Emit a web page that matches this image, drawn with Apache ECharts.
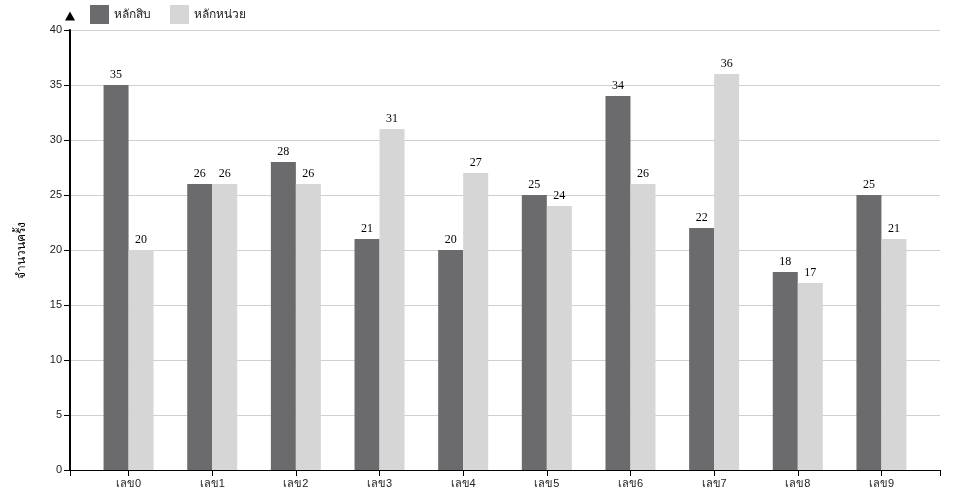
<!DOCTYPE html>
<html>
<head>
<meta charset="utf-8">
<script src="https://cdn.jsdelivr.net/npm/echarts@6/dist/echarts.min.js"></script>
<style>html,body{margin:0;padding:0;background:#fff}#c{width:960px;height:500px}</style>
</head>
<body>
<div id="c"></div>
<script>
const categories = ['เลข0','เลข1','เลข2','เลข3','เลข4','เลข5','เลข6','เลข7','เลข8','เลข9'];
const tens = [35,26,28,21,20,25,34,22,18,25];
const units = [20,26,26,31,27,24,26,36,17,21];
const seriesNames = ['หลักสิบ','หลักหน่วย'];

const idx = categories.map((_, i) => i);
const chart = echarts.init(document.getElementById('c'));
const labelStyle = {show: true, position: 'top', distance: 4, fontFamily: 'Liberation Serif, serif', fontSize: 12, color: '#000'};
chart.setOption({
  animation: false,
  grid: {left: 70, right: 20, top: 30, bottom: 30},
  legend: {
    left: 90, top: 5, padding: 0, itemWidth: 19, itemHeight: 19, itemGap: 19,
    icon: 'rect',
    textStyle: {fontSize: 12, color: '#222'},
    data: seriesNames
  },
  xAxis: {
    type: 'value', min: -0.7, max: 9.7,
    axisLine: {show: true, onZero: false, lineStyle: {color: '#000'}},
    axisTick: {show: true, length: 6, lineStyle: {color: '#000'}, customValues: [-0.7].concat(idx, [9.7])},
    axisLabel: {customValues: idx, formatter: v => categories[Math.round(v)], color: '#222', fontSize: 11, margin: 8},
    splitLine: {show: false}
  },
  yAxis: {
    type: 'value', min: 0, max: 40, interval: 5, position: 'left',
    name: 'จำนวนครั้ง', nameLocation: 'middle', nameGap: 42, nameRotate: 90,
    nameTextStyle: {fontSize: 12, color: '#000'},
    axisLine: {show: true, onZero: false, lineStyle: {color: '#000', width: 2}, symbol: ['none', 'triangle'], symbolSize: [10, 9], symbolOffset: [0, 14]},
    axisTick: {show: true, length: 6, lineStyle: {color: '#000'}},
    axisLabel: {color: '#222', fontSize: 11, margin: 8},
    splitLine: {show: true, lineStyle: {color: '#d0d0d0'}}
  },
  series: [
    {name: seriesNames[0], type: 'bar', barWidth: 25, barGap: '0%', itemStyle: {color: '#6b6b6d'},
     label: labelStyle, data: tens.map((v, i) => [i, v])},
    {name: seriesNames[1], type: 'bar', barWidth: 25, barGap: '0%', itemStyle: {color: '#d6d6d6'},
     label: labelStyle, data: units.map((v, i) => [i, v])}
  ]
});
</script>
</body>
</html>
